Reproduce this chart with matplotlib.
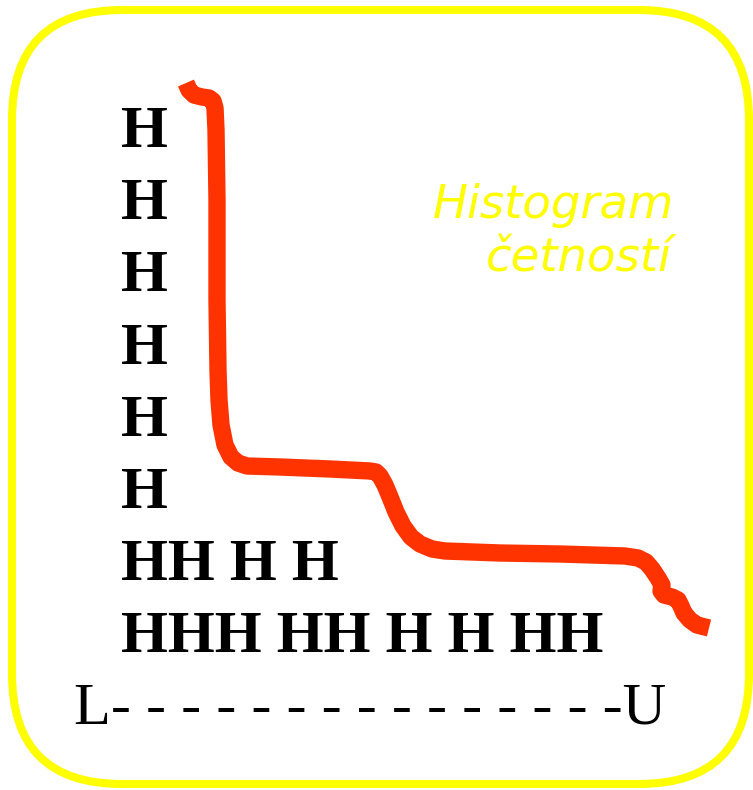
import matplotlib
matplotlib.use("Agg")
import matplotlib.pyplot as plt
from matplotlib.patches import FancyBboxPatch

# --- data -------------------------------------------------------------
hist_rows = ["H", "H", "H", "H", "H", "H", "HH H H", "HHH HH H H HH"]
axis_label = "L" + "- " * 14 + "-U"
title_lines = ["Histogram", "četností"]

curve_x = [186, 189, 194, 202, 209, 213, 215, 216, 217, 217, 218, 219, 221,
           225, 231, 238, 247, 280, 330, 370, 376, 380, 385, 390, 396, 403,
           411, 420, 432, 445, 500, 560, 625, 638, 646, 652, 658, 662, 661,
           664, 672, 678, 681, 684, 690, 697, 709]
curve_y = [83, 90, 95, 97, 98, 101, 108, 130, 200, 300, 370, 400, 425,
           445, 457, 463, 466, 467, 469, 471, 472, 476, 485, 497, 512, 526,
           537, 544, 549, 551, 553, 554, 556, 558, 562, 569, 578, 585, 591,
           595, 597, 600, 606, 613, 620, 625, 628]

# --- figure -----------------------------------------------------------
W, H = 753, 790
fig = plt.figure(figsize=(W / 100, H / 100), dpi=100)
ax = fig.add_axes([0, 0, 1, 1])
ax.set_xlim(0, W)
ax.set_ylim(H, 0)
ax.axis("off")

# rounded yellow frame
frame = FancyBboxPatch((12 + 110, 10 + 110), 737 - 220, 774 - 220,
                       boxstyle="round,pad=110", fill=False,
                       edgecolor="#ffff00", linewidth=5.8)
ax.add_patch(frame)

# histogram rows of H
row_top_baseline = 147
row_step = 72.2
for i, row in enumerate(hist_rows):
    ax.text(121, row_top_baseline + i * row_step, row, ha="left", va="baseline",
            fontsize=43.5, fontweight="bold", family="Liberation Serif",
            color="black")

# L - - - U axis
ax.text(74, 723, axis_label, ha="left", va="baseline", fontsize=43.5,
        family="Liberation Serif", color="black")

# title
ax.text(674, 218, title_lines[0], ha="right", va="baseline", fontsize=33.5,
        family="DejaVu Sans", style="italic", color="#ffff00")
ax.text(672, 271, title_lines[1], ha="right", va="baseline", fontsize=33.5,
        family="DejaVu Sans", style="italic", color="#ffff00")

# curve
ax.plot(curve_x, curve_y, color="#ff3300", linewidth=12.5,
        solid_joinstyle="round", solid_capstyle="butt")

fig.savefig("out.png", dpi=100)
